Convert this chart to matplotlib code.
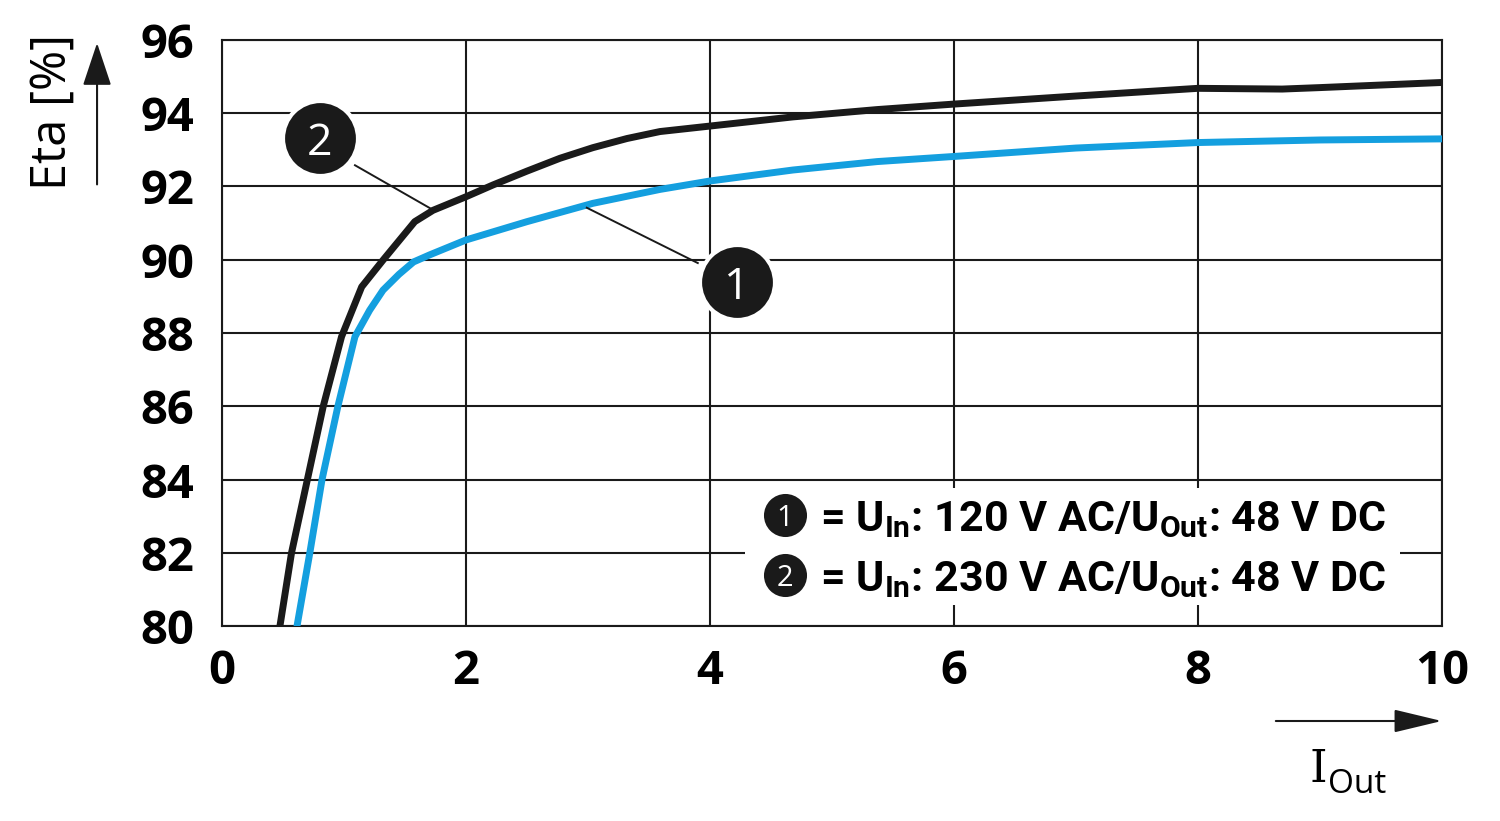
import numpy as np
import matplotlib
matplotlib.use('Agg')
import matplotlib.pyplot as plt
from matplotlib.patches import Rectangle

# efficiency curves
i_out_230 = [0.475, 0.57, 0.70, 0.83, 0.98, 1.145, 1.32, 1.58, 1.73, 2.0, 2.22, 2.5, 2.77, 3.04, 3.32, 3.59, 4.0, 4.68, 5.37, 6.0, 7.0, 8.0, 8.69, 9.0, 10.0]
eta_230 = [80.0, 82.0, 84.0, 86.0, 87.9, 89.26, 89.99, 91.04, 91.35, 91.72, 92.04, 92.42, 92.77, 93.06, 93.31, 93.5, 93.65, 93.9, 94.1, 94.25, 94.47, 94.68, 94.66, 94.70, 94.84]

i_out_120 = [0.615, 0.72, 0.82, 0.95, 1.09, 1.21, 1.32, 1.45, 1.57, 1.70, 2.0, 2.5, 3.04, 3.59, 4.0, 4.68, 5.37, 6.0, 7.0, 8.0, 9.0, 10.0]
eta_120 = [80.0, 82.0, 84.0, 86.0, 87.9, 88.62, 89.17, 89.6, 89.94, 90.13, 90.54, 91.04, 91.54, 91.92, 92.15, 92.45, 92.68, 92.82, 93.05, 93.2, 93.27, 93.3]

x_ticks = [0, 2, 4, 6, 8, 10]
y_ticks = [80, 82, 84, 86, 88, 90, 92, 94, 96]
legend_labels = [r'= U$_{\mathregular{In}}$: 120 V AC/U$_{\mathregular{Out}}$: 48 V DC',
                 r'= U$_{\mathregular{In}}$: 230 V AC/U$_{\mathregular{Out}}$: 48 V DC']

BLACK = '#1a1a1a'
BLUE = '#149fdf'

plt.rcParams['font.family'] = ['Open Sans', 'DejaVu Sans']

fig = plt.figure(figsize=(15, 8.21), dpi=100)
ax = fig.add_axes([0.148, 0.2375, 0.8133, 0.7138])

ax.plot(i_out_230, eta_230, color=BLACK, lw=5, solid_capstyle='round', zorder=4)
ax.plot(i_out_120, eta_120, color=BLUE, lw=5, solid_capstyle='round', zorder=4)

ax.set_xlim(0, 10)
ax.set_ylim(80, 96)
ax.set_xticks(x_ticks)
ax.set_yticks(y_ticks)
ax.tick_params(length=0, labelsize=34)
ax.tick_params(axis='y', pad=20)
ax.tick_params(axis='x', pad=16)
for lab in ax.get_xticklabels() + ax.get_yticklabels():
    lab.set_fontweight('bold')
ax.grid(True, color=BLACK, lw=1.5)
for s in ax.spines.values():
    s.set_linewidth(1.5)
    s.set_color(BLACK)

# callouts on the curves
ax.plot([1.09, 1.73], [92.58, 91.36], color=BLACK, lw=1.4, zorder=5)
ax.plot([2.99, 3.90], [91.42, 89.91], color=BLACK, lw=1.4, zorder=5)
for cx, cy, num in [(0.80, 93.32, '2'), (4.22, 89.39, '1')]:
    ax.plot(cx, cy, 'o', ms=54, mfc=BLACK, mec='white', mew=3, zorder=6)
    ax.text(cx, cy, num, color='white', fontsize=32, ha='center', va='center_baseline', zorder=7)

# legend block in the lower right
ax.add_patch(Rectangle((0.4287, 0.0358), 0.537, 0.2, transform=ax.transAxes,
                       facecolor='white', edgecolor='none', zorder=3))
for k, (fy, label) in enumerate(zip([0.1894, 0.0870], legend_labels)):
    ax.plot(0.4615, fy, 'o', ms=31, mfc=BLACK, mec='none', transform=ax.transAxes, zorder=6)
    ax.text(0.4615, fy, str(k + 1), color='white', fontsize=21, ha='center', va='center_baseline',
            transform=ax.transAxes, zorder=7)
    ax.text(0.4902, fy, label, fontsize=31, fontweight='bold', ha='left', va='center_baseline',
            family=['Roboto', 'DejaVu Sans'], transform=ax.transAxes, zorder=7)

# axis labels with arrows
fig.text(0.035, 0.863, 'Eta [%]', rotation=90, fontsize=35, ha='center', va='center')
ax.annotate('', xy=(0.0647, 0.951), xytext=(0.0647, 0.772), xycoords='figure fraction',
            annotation_clip=False,
            arrowprops=dict(arrowstyle='-|>,head_length=1.35,head_width=0.45',
                            mutation_scale=20, lw=1.5, color=BLACK))
ax.annotate('', xy=(0.963, 0.1218), xytext=(0.8487, 0.1218), xycoords='figure fraction',
            annotation_clip=False,
            arrowprops=dict(arrowstyle='-|>,head_length=1.5,head_width=0.36',
                            mutation_scale=20, lw=1.5, color=BLACK))
fig.text(0.8787, 0.0475, 'I', fontsize=32, family='DejaVu Serif', ha='center', va='baseline')
fig.text(0.8853, 0.0341, 'Out', fontsize=24, ha='left', va='baseline')

fig.savefig('out.png', dpi=100)
